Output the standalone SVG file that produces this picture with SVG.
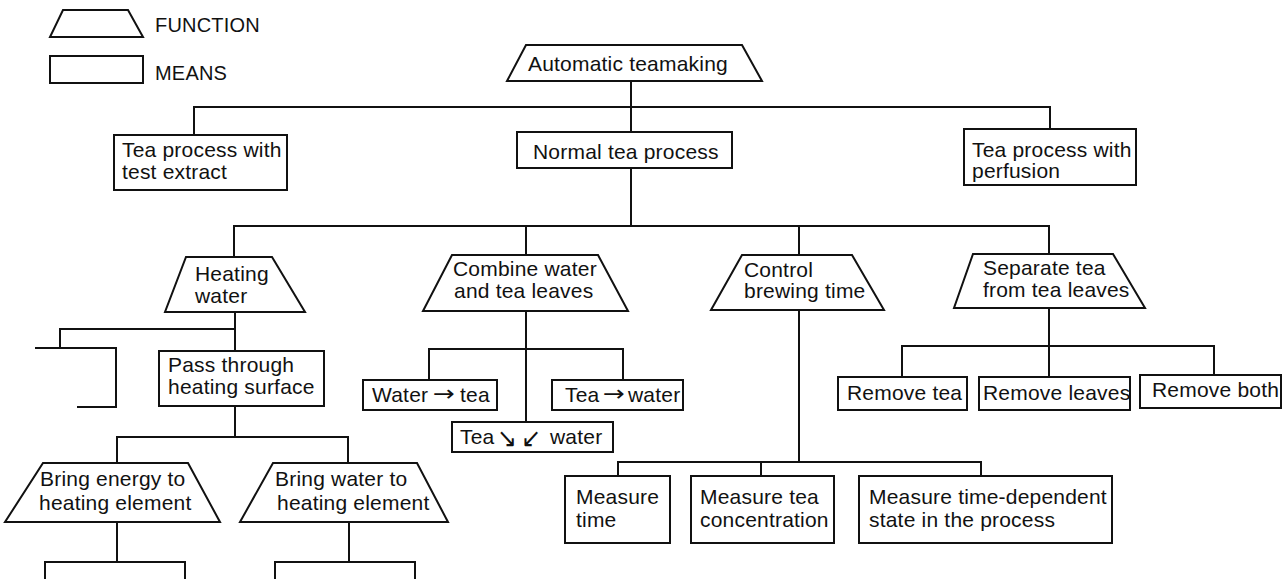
<svg xmlns="http://www.w3.org/2000/svg" width="1283" height="579" viewBox="0 0 1283 579">
  <style>
    .fn, .mn { fill: #fff; stroke: #111; stroke-width: 2; stroke-linejoin: miter; }
    .wire { fill: none; stroke: #111; stroke-width: 2; }
    text { font-family: "Liberation Sans", Arial, sans-serif; font-size: 21px; fill: #111; letter-spacing: 0.2px; }
    .key { font-size: 20px; }
    .arr { font-family: "DejaVu Sans", sans-serif; font-size: 22px; letter-spacing: 0; }
    .diag { font-family: "DejaVu Sans", sans-serif; font-size: 26px; letter-spacing: 0; }
  </style>
  <rect width="1283" height="579" fill="#fff"/>

  <!-- key -->
  <g id="legend">
    <polygon class="fn" points="63,10 128,10 143,37 50,37"/>
    <text class="key" x="155" y="32">FUNCTION</text>
    <rect class="mn" x="50" y="56" width="93" height="27"/>
    <text class="key" x="155" y="80">MEANS</text>
  </g>

  <!-- connectors -->
  <g id="connectors" class="wire">
    <!-- root to first level -->
    <path d="M631,81 V132"/>
    <path d="M194,135 V107 H1050 V129"/>
    <!-- normal tea process to functions -->
    <path d="M631,168 V226"/>
    <path d="M234,257 V226 H1049 V254"/>
    <path d="M526,226 V255"/>
    <path d="M799,226 V255"/>
    <!-- heating water -->
    <path d="M235,312 V351"/>
    <path d="M60,348 V329 H235"/>
    <path d="M235,406 V437"/>
    <path d="M117,463 V437 H348 V463"/>
    <path d="M117,522 V562"/>
    <path d="M45,579 V562 H185 V579"/>
    <path d="M349,522 V562"/>
    <path d="M275,579 V562 H415 V579"/>
    <!-- combine water and tea leaves -->
    <path d="M526,311 V422"/>
    <path d="M429,380 V349 H623 V380"/>
    <!-- control brewing time -->
    <path d="M799,310 V462"/>
    <path d="M618,476 V462 H981 V476"/>
    <path d="M761,462 V476"/>
    <!-- separate tea from tea leaves -->
    <path d="M1049,308 V377"/>
    <path d="M902,377 V346 H1214 V375"/>
  </g>

  <!-- functions and means -->
  <g id="automatic-teamaking">
    <polygon class="fn" points="526,45 742,45 762,81 507,81"/>
    <text x="528" y="71">Automatic teamaking</text>
  </g>

  <g id="tea-process-test-extract">
    <rect class="mn" x="114" y="135" width="173" height="55"/>
    <text x="122" y="157">Tea process with</text>
    <text x="122" y="179">test extract</text>
  </g>

  <g id="normal-tea-process">
    <rect class="mn" x="517" y="132" width="215" height="36"/>
    <text x="533" y="159">Normal tea process</text>
  </g>

  <g id="tea-process-perfusion">
    <rect class="mn" x="964" y="129" width="172" height="56"/>
    <text x="972" y="157">Tea process with</text>
    <text x="972" y="178">perfusion</text>
  </g>

  <g id="heating-water">
    <polygon class="fn" points="186,257 272,257 305,312 165,312"/>
    <text x="195" y="281">Heating</text>
    <text x="195" y="303">water</text>
  </g>

  <g id="heating-means-cut">
    <path class="wire" d="M35,348 H116 V407 H77"/>
  </g>

  <g id="pass-through-heating-surface">
    <rect class="mn" x="159" y="351" width="165" height="55"/>
    <text x="168" y="372">Pass through</text>
    <text x="168" y="394">heating surface</text>
  </g>

  <g id="bring-energy">
    <polygon class="fn" points="43,463 188,463 220,522 5,522"/>
    <text x="40" y="486">Bring energy to</text>
    <text x="39" y="510">heating element</text>
  </g>

  <g id="bring-water">
    <polygon class="fn" points="273,463 417,463 448,522 240,522"/>
    <text x="275" y="486">Bring water to</text>
    <text x="277" y="510">heating element</text>
  </g>

  <g id="combine-water-leaves">
    <polygon class="fn" points="452,255 598,255 628,311 423,311"/>
    <text x="453" y="276">Combine water</text>
    <text x="454" y="298">and tea leaves</text>
  </g>

  <g id="water-to-tea">
    <rect class="mn" x="363" y="380" width="134" height="30"/>
    <text x="372" y="402">Water</text>
    <text class="arr" x="433" y="401" textLength="22" lengthAdjust="spacingAndGlyphs">→</text>
    <text x="460" y="402">tea</text>
  </g>

  <g id="tea-to-water">
    <rect class="mn" x="552" y="380" width="131" height="30"/>
    <text x="565" y="402">Tea</text>
    <text class="arr" x="603" y="401" textLength="22" lengthAdjust="spacingAndGlyphs">→</text>
    <text x="628" y="402">water</text>
  </g>

  <g id="tea-and-water">
    <rect class="mn" x="452" y="422" width="161" height="30"/>
    <text x="460" y="444">Tea</text>
    <text class="diag" x="497" y="447" textLength="20" lengthAdjust="spacingAndGlyphs">↘</text>
    <text class="diag" x="521" y="447" textLength="20" lengthAdjust="spacingAndGlyphs">↙</text>
    <text x="550" y="444">water</text>
  </g>

  <g id="control-brewing-time">
    <polygon class="fn" points="742,255 852,255 884,310 711,310"/>
    <text x="744" y="277">Control</text>
    <text x="744" y="298">brewing time</text>
  </g>

  <g id="measure-time">
    <rect class="mn" x="565" y="476" width="105" height="67"/>
    <text x="576" y="504">Measure</text>
    <text x="576" y="527">time</text>
  </g>

  <g id="measure-concentration">
    <rect class="mn" x="691" y="476" width="143" height="67"/>
    <text x="700" y="504">Measure tea</text>
    <text x="700" y="527">concentration</text>
  </g>

  <g id="measure-state">
    <rect class="mn" x="859" y="476" width="253" height="67"/>
    <text x="869" y="504">Measure time-dependent</text>
    <text x="869" y="527">state in the process</text>
  </g>

  <g id="separate-tea-leaves">
    <polygon class="fn" points="973,254 1113,254 1145,308 954,308"/>
    <text x="983" y="275">Separate tea</text>
    <text x="983" y="297">from tea leaves</text>
  </g>

  <g id="remove-tea">
    <rect class="mn" x="838" y="377" width="129" height="33"/>
    <text x="847" y="400">Remove tea</text>
  </g>

  <g id="remove-leaves">
    <rect class="mn" x="979" y="377" width="151" height="33"/>
    <text x="983" y="400">Remove leaves</text>
  </g>

  <g id="remove-both">
    <rect class="mn" x="1140" y="375" width="141" height="33"/>
    <text x="1152" y="397">Remove both</text>
  </g>
</svg>
